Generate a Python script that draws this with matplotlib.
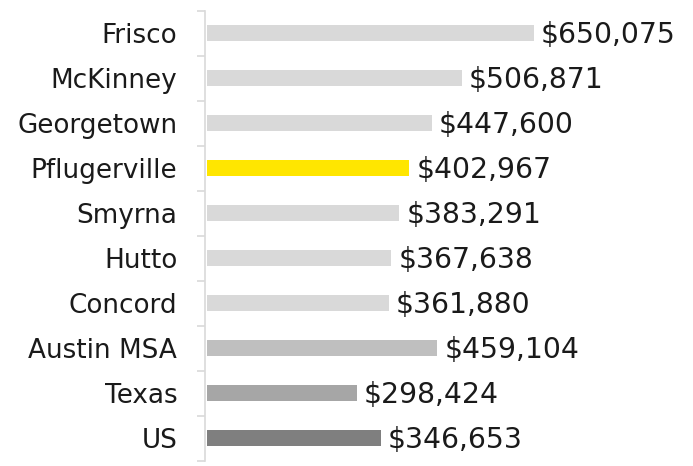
import matplotlib
matplotlib.use("Agg")
import matplotlib.pyplot as plt

categories = ["Frisco", "McKinney", "Georgetown", "Pflugerville", "Smyrna",
              "Hutto", "Concord", "Austin MSA", "Texas", "US"]
values = [650075, 506871, 447600, 402967, 383291, 367638, 361880, 459104, 298424, 346653]
colors = ["#d9d9d9", "#d9d9d9", "#d9d9d9", "#ffe600", "#d9d9d9",
          "#d9d9d9", "#d9d9d9", "#bfbfbf", "#a6a6a6", "#7f7f7f"]

plt.rcParams['font.family'] = ['DejaVu Sans']

fig = plt.figure(figsize=(6.93, 4.66), dpi=100)
ax = fig.add_axes([205/693, 1 - 460.7/466, (693 - 205)/693, 450/466])

n = len(categories)
ypos = list(range(n))
ax.barh(ypos, values, height=0.36, color=colors, left=0)
ax.set_ylim(n - 0.5, -0.5)
ax.set_xlim(-3000, 967000)

for y, v in zip(ypos, values):
    ax.text(v + 14000, y + 0.03, f"${v:,}", va="center", ha="left", fontsize=20.3, color="#1a1a1a")

ax.set_yticks(ypos)
ax.set_yticklabels(categories, fontsize=18.9, color="#1a1a1a")
ax.tick_params(axis="y", length=0, pad=20)
ax.set_yticks([i - 0.5 for i in range(n + 1)], minor=True)
ax.tick_params(axis="y", which="minor", length=5.8, color="#d9d9d9", width=1.2)
ax.set_xticks([])
for s in ["top", "right", "bottom"]:
    ax.spines[s].set_visible(False)
ax.spines["left"].set_color("#d9d9d9")
ax.spines["left"].set_linewidth(1.2)

fig.savefig("out.png", dpi=100)
